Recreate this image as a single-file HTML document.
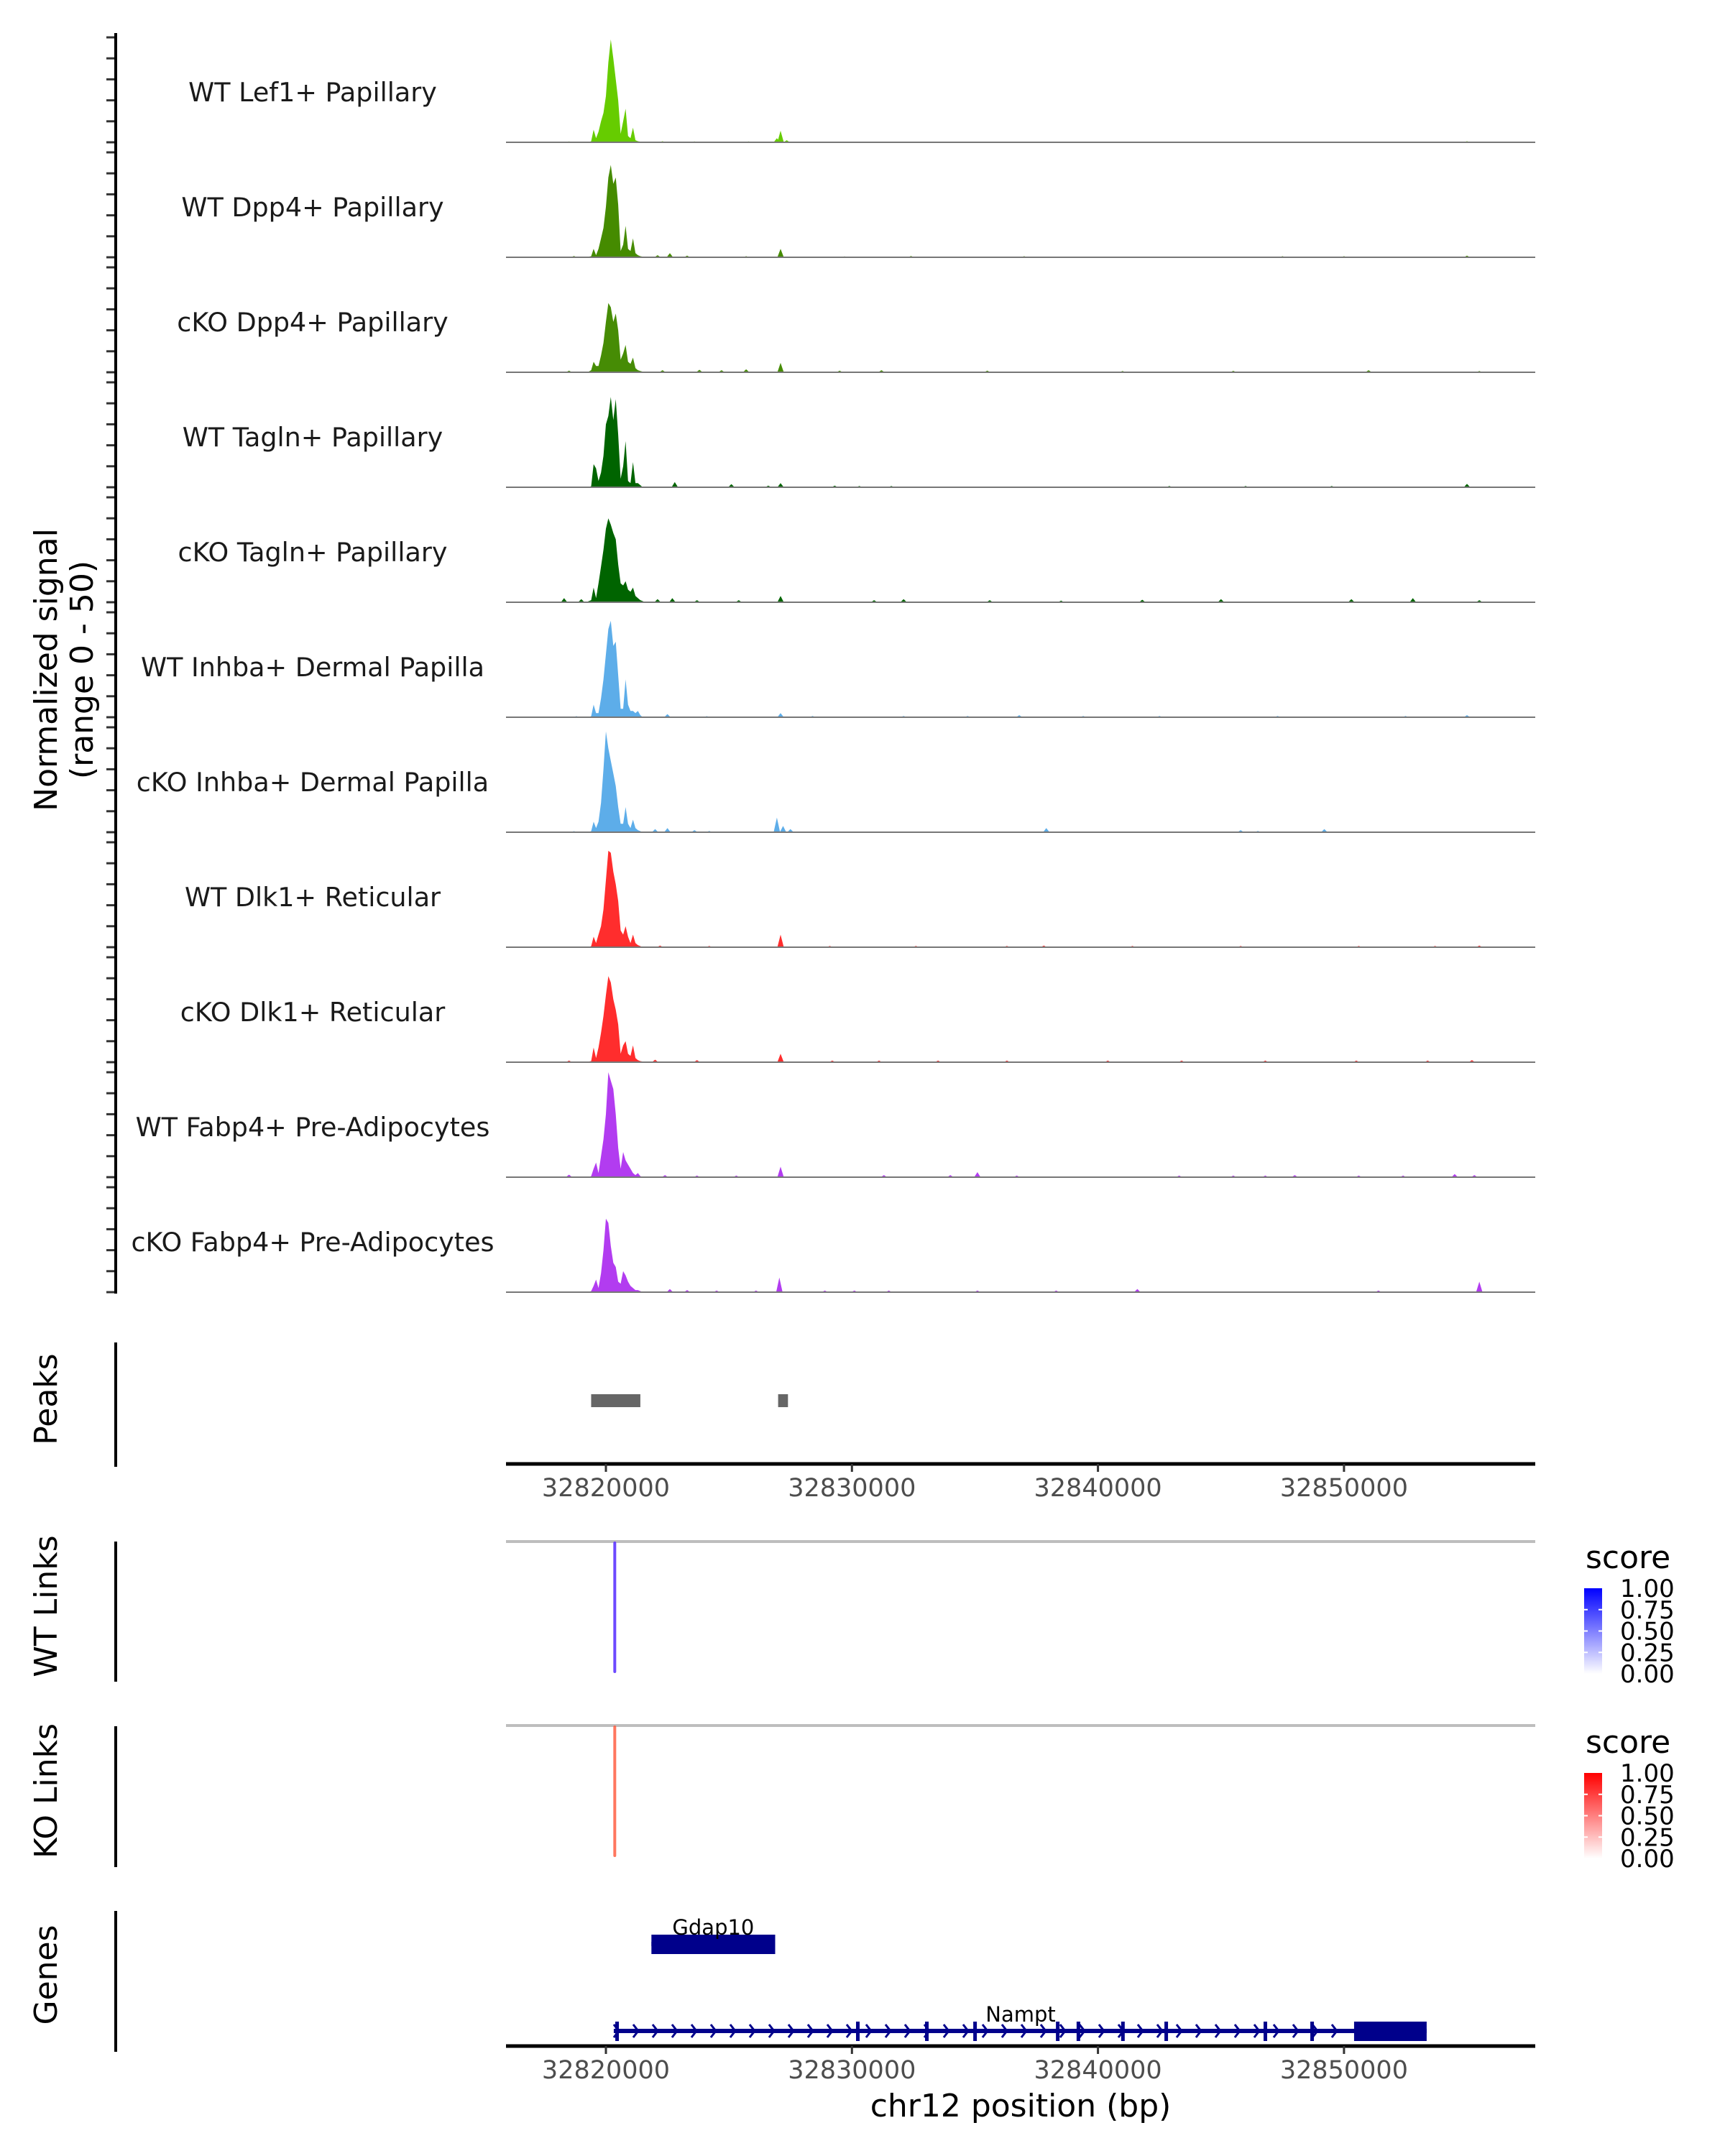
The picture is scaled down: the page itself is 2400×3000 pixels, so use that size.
<!DOCTYPE html>
<html><head><meta charset="utf-8"><style>
html,body{margin:0;padding:0;background:#fff}
svg{display:block}
text{font-family:"DejaVu Sans","Liberation Sans",sans-serif}
</style></head>
<body>
<svg id="chart" width="2400" height="3000" viewBox="0 0 2400 3000" xmlns="http://www.w3.org/2000/svg">
  <rect x="0" y="0" width="2400" height="3000" fill="#fff"/>
  <text transform="translate(79,932) rotate(-90)" text-anchor="middle" font-size="44" fill="#000">Normalized signal</text>
  <text transform="translate(129,932) rotate(-90)" text-anchor="middle" font-size="44" fill="#000">(range 0 - 50)</text>
  <text transform="translate(79,1947) rotate(-90)" text-anchor="middle" font-size="44" fill="#000">Peaks</text>
  <text transform="translate(79,2235) rotate(-90)" text-anchor="middle" font-size="44" fill="#000">WT Links</text>
  <text transform="translate(79,2492) rotate(-90)" text-anchor="middle" font-size="44" fill="#000">KO Links</text>
  <text transform="translate(79,2748) rotate(-90)" text-anchor="middle" font-size="44" fill="#000">Genes</text>
  <text x="1420" y="2945" text-anchor="middle" font-size="44" fill="#000">chr12 position (bp)</text>
  <g id="g-main"></g>
</svg>
<script>
// ---- data ----
const trackNames = ["WT Lef1+ Papillary","WT Dpp4+ Papillary","cKO Dpp4+ Papillary","WT Tagln+ Papillary","cKO Tagln+ Papillary","WT Inhba+ Dermal Papilla","cKO Inhba+ Dermal Papilla","WT Dlk1+ Reticular","cKO Dlk1+ Reticular","WT Fabp4+ Pre-Adipocytes","cKO Fabp4+ Pre-Adipocytes"];
const trackColors = ["#66cc00","#458b00","#468c05","#006400","#006400","#5dade9","#5dade9","#ff2d2d","#ff2d2d","#b23cf0","#b23cf0"];
const binStart = 32819300;
const binStep = 100;
const sigLef1 = [0,0.5,6,2,5,10,14,22,38,49,40,30,20,4,10,16,3,2,7,1,0.5,0.3,0];
const sigDpp4WT = [0.3,0.5,4,1,4,9,14,24,38,44,35,38,25,3,6,15,4,3,9,2,1,0.5,0.3];
const sigDpp4KO = [0.3,1,5,3,3,8,14,24,33,31,24,28,20,6,9,13,5,4,7,2,1,0.6,0.3];
const sigTaglnWT = [0,0.5,11,9,3,7,15,30,34,43,32,42,25,4,10,22,3,2,12,2,2,1,0];
const sigTaglnKO = [0.5,1,7,2,9,17,25,35,40,37,33,30,18,9,8,10,6,5,7,3,2,1,0.5];
const sigInhbaWT = [0,0.5,6,2,2,9,18,30,42,46,34,36,20,4,4,18,6,3,3,2,3,1,0];
const sigInhbaKO = [0,0.5,5,2,5,14,30,48,40,34,28,22,12,4,4,12,4,2,6,2,1,0.5,0];
const sigDlk1WT = [0,0.5,5,2,6,10,18,32,46,45,36,30,22,8,6,10,5,2,6,2,1,0.5,0];
const sigDlk1KO = [0.3,0.5,7,2,7,14,22,32,41,38,30,25,18,4,8,10,4,3,8,2,1,0.5,0.3];
const sigFabp4WT = [0,0.5,4,7,2,10,18,30,50,46,42,30,14,4,12,8,6,4,2,1,2,0.5,0];
const sigFabp4KO = [0,0.5,3,6,2,9,20,35,33,22,14,12,5,4,10,8,5,3,2,1,1,0.5,0];
const blipLef1 = [[32826950,2],[32827100,5.5],[32827350,1],[32818500,0.4],[32822300,0.5],[32823600,0.4],[32825800,0.4],[32855000,0.5]];
const blipDpp4WT = [[32827100,4],[32818700,0.6],[32822100,1],[32822600,2],[32823300,0.8],[32825700,0.5],[32829700,0.4],[32832400,0.6],[32837000,0.5],[32847500,0.5],[32850000,0.5],[32855000,0.8]];
const blipDpp4KO = [[32827100,4.5],[32818500,0.8],[32822300,1],[32823800,1.2],[32824700,1],[32825700,1.4],[32829500,0.8],[32831200,1],[32835500,0.8],[32841000,0.6],[32845500,0.7],[32851000,1],[32855500,0.6]];
const blipTaglnWT = [[32827100,2],[32822800,2.5],[32825100,1.5],[32826600,0.8],[32829300,0.8],[32830300,0.6],[32831600,0.6],[32842900,0.6],[32846000,0.6],[32849500,0.6],[32855000,1.6]];
const blipTaglnKO = [[32827100,3],[32818300,2],[32819000,1.5],[32822100,1.5],[32822700,2],[32823700,1],[32825400,1],[32830900,1],[32832100,1.5],[32835600,1],[32838500,0.8],[32841800,1.2],[32845000,1.5],[32850300,1.5],[32852800,2],[32855500,1]];
const blipInhbaWT = [[32827100,2],[32818800,0.5],[32822500,1.5],[32824100,0.5],[32828400,0.6],[32832100,0.6],[32834700,0.6],[32836800,1],[32839400,0.6],[32842500,0.6],[32847300,0.6],[32852500,0.6],[32855000,1]];
const blipInhbaKO = [[32826950,7],[32827200,3],[32827500,1.5],[32818700,0.5],[32822000,1.5],[32822500,2],[32823600,1],[32824200,0.6],[32837900,2],[32845800,1],[32846500,0.6],[32849200,1.5]];
const blipDlk1WT = [[32827100,6],[32822200,0.8],[32824200,0.6],[32829100,0.6],[32832600,0.6],[32836300,0.6],[32837800,0.8],[32841400,0.6],[32845800,0.6],[32850600,0.6],[32853700,0.6],[32855500,0.8]];
const blipDlk1KO = [[32827100,4],[32818500,0.8],[32822000,1.2],[32823700,1],[32829200,0.8],[32831100,0.8],[32833500,0.8],[32836300,0.8],[32840400,0.8],[32843400,0.8],[32846800,0.8],[32850500,0.8],[32853400,0.8],[32855200,1]];
const blipFabp4WT = [[32827100,5],[32818500,1.2],[32822400,1],[32823700,0.8],[32825300,0.8],[32831300,1],[32834000,1],[32835100,2.4],[32836700,0.8],[32843300,0.8],[32845500,0.8],[32846800,0.8],[32848000,1],[32850600,0.8],[32852400,0.8],[32854500,1.5],[32855300,1]];
const blipFabp4KO = [[32827050,7],[32822600,1.5],[32823300,1],[32824500,0.8],[32826100,0.8],[32828900,0.8],[32830100,0.8],[32831500,0.8],[32835100,0.8],[32838300,0.8],[32841600,1.5],[32851400,0.8],[32855500,5]];
const signals = [sigLef1,sigDpp4WT,sigDpp4KO,sigTaglnWT,sigTaglnKO,sigInhbaWT,sigInhbaKO,sigDlk1WT,sigDlk1KO,sigFabp4WT,sigFabp4KO];
const blips = [blipLef1,blipDpp4WT,blipDpp4KO,blipTaglnWT,blipTaglnKO,blipInhbaWT,blipInhbaKO,blipDlk1WT,blipDlk1KO,blipFabp4WT,blipFabp4KO];
const xTicks = [32820000,32830000,32840000,32850000];
const yTicks = [0,10,20,30,40,50];
const peakStarts = [32819400,32827000];
const peakEnds = [32821400,32827400];
const wtLinkPos = [32820360];
const wtLinkScore = [0.8];
const koLinkPos = [32820360];
const koLinkScore = [0.7];
const legendLabels = ["1.00","0.75","0.50","0.25","0.00"];
const geneNames = ["Gdap10","Nampt"];
const geneStarts = [32821850,32820320];
const geneEnds = [32826880,32853360];
const geneCdsStarts = [32821850,32850410];
const namptExons = [32820440,32830225,32833030,32834990,32838350,32839190,32841000,32842760,32846790,32848690];

// ---- scales ----
const X0 = 843, BP0 = 32820000, PXBP = 0.03423;
function xs(bp){ return X0 + (bp - BP0) * PXBP; }
const PX_L = 704, PX_R = 2136;
const trackBase0 = 198, trackStep = 160, unitPx = 2.92;
function ys(i, v){ return trackBase0 + trackStep * i - Math.min(v,50) * unitPx; }

const NS = "http://www.w3.org/2000/svg";
const g = document.getElementById("g-main");
function mk(tag, attrs, parent){
  const el = document.createElementNS(NS, tag);
  for (const k in attrs) el.setAttribute(k, attrs[k]);
  (parent || g).appendChild(el);
  return el;
}

for (let i = 0; i < trackNames.length; i++) {
  const base = trackBase0 + trackStep * i;
  const tg = mk("g", {});
  
  
  const lb = mk("text", {x: 435, y: base - 57, "text-anchor": "middle", "font-size": 36.5, fill: "#1a1a1a"}, tg);
  lb.textContent = trackNames[i];
  
  
  const s = signals[i];
  let d = "M" + xs(binStart - binStep).toFixed(1) + "," + base;
  for (let k = 0; k < s.length; k++) d += " L" + xs(binStart + k * binStep).toFixed(1) + "," + ys(i, s[k]).toFixed(1);
  d += " L" + xs(binStart + s.length * binStep).toFixed(1) + "," + base + " Z";
  const ar = mk("path", {d: d, fill: trackColors[i]}, tg);
  
  
  const b = blips[i];
  for (let k = 0; k < b.length; k++) {
    const c = b[k][0], h = b[k][1];
    const pd = "M" + xs(c - 130).toFixed(1) + "," + base + " L" + xs(c).toFixed(1) + "," + ys(i, h).toFixed(1) + " L" + xs(c + 130).toFixed(1) + "," + base + " Z";
    const bl = mk("path", {d: pd, fill: trackColors[i]}, tg);
    
    
  }
  const bln = mk("line", {x1: PX_L, x2: PX_R, y1: base, y2: base, stroke: "#777", "stroke-width": 2}, tg);
  
  
  for (let t = 0; t < yTicks.length; t++) {
    const yy = ys(i, yTicks[t]);
    const tk = mk("line", {x1: 148, x2: 161, y1: yy, y2: yy, stroke: "#333", "stroke-width": 3}, tg);
    
    
  }
}
const yAx = mk("line", {x1: 161, x2: 161, y1: 46, y2: ys(trackNames.length - 1, 0) + 2, stroke: "#000", "stroke-width": 4});



const sideAxes = [[1868,2041,'peaks-axis-line'],[2145,2340,'wt-links-axis-line'],[2402,2598,'ko-links-axis-line'],[2659,2855,'genes-axis-line']];
for (let k = 0; k < sideAxes.length; k++) {
  const la = mk("line", {x1: 161, x2: 161, y1: sideAxes[k][0], y2: sideAxes[k][1], stroke: "#000", "stroke-width": 4});
  
  
}

for (let k = 0; k < peakStarts.length; k++) {
  const r = mk("rect", {x: xs(peakStarts[k]), y: 1940, width: xs(peakEnds[k]) - xs(peakStarts[k]), height: 18, fill: "#666"});
  
  
}

function xAxis(y, name){
  const ax = mk("line", {x1: PX_L, x2: PX_R, y1: y, y2: y, stroke: "#000", "stroke-width": 5});
  
  
  for (let t = 0; t < xTicks.length; t++) {
    const xx = xs(xTicks[t]);
    const tk = mk("line", {x1: xx, x2: xx, y1: y, y2: y + 11, stroke: "#333", "stroke-width": 3});
    
    
    const tl = mk("text", {x: xx, y: y + 45, "text-anchor": "middle", "font-size": 35, fill: "#4d4d4d"});
    tl.textContent = String(xTicks[t]);
    
    
  }
}
xAxis(2037, 'peaks-x-axis');
xAxis(2847, 'genes-x-axis');

function linkPanel(topY, botY, pos, score, color, name){
  const gl = mk("line", {x1: PX_L, x2: PX_R, y1: topY, y2: topY, stroke: "#bebebe", "stroke-width": 4});
  
  
  for (let k = 0; k < pos.length; k++) {
    const ln = mk("line", {x1: xs(pos[k]), x2: xs(pos[k]), y1: topY + 2, y2: botY, stroke: color, "stroke-width": 4, "stroke-linecap": "round", opacity: 0.4 + 0.6 * score[k]});
    
    
  }
}
linkPanel(2145, 2326, wtLinkPos, wtLinkScore, "#5a32ff", 'wt-link');
linkPanel(2401, 2582, koLinkPos, koLinkScore, "#ff5a3c", 'ko-link');

const defs = mk("defs", {});
function grad(id, c){
  const lg = mk("linearGradient", {id: id, x1: 0, y1: 1, x2: 0, y2: 0}, defs);
  mk("stop", {offset: "0", "stop-color": "#ffffff"}, lg);
  mk("stop", {offset: "1", "stop-color": c}, lg);
}
grad("gb", "#0000ff");
grad("gr", "#ff0000");
function legend(y0, gid, name){
  const lg = mk("g", {});
  
  
  const tt = mk("text", {x: 2206, y: y0 + 12, "font-size": 44, fill: "#000"}, lg);
  tt.textContent = "score";
  
  
  const barTop = y0 + 40, barH = 119;
  const br = mk("rect", {x: 2204, y: barTop, width: 25, height: barH, fill: "url(#" + gid + ")"}, lg);
  
  
  for (let k = 0; k < legendLabels.length; k++) {
    const yy = barTop + barH * k / (legendLabels.length - 1);
    const tl = mk("text", {x: 2254, y: yy + 12, "font-size": 34, fill: "#000"}, lg);
    tl.textContent = legendLabels[k];
    
    
    if (k > 0 && k < legendLabels.length - 1) {
      mk("line", {x1: 2204, x2: 2209, y1: yy, y2: yy, stroke: "#fff", "stroke-width": 2}, lg);
      mk("line", {x1: 2224, x2: 2229, y1: yy, y2: yy, stroke: "#fff", "stroke-width": 2}, lg);
    }
  }
}
legend(2170, "gb", 'wt-legend');
legend(2427, "gr", 'ko-legend');

const NAVY = "#00008b";
function chevrons(x1, x2, y, step){
  for (let x = x1 + 10; x < x2 - 5; x += step) {
    const c = mk("polyline", {points: (x - 4) + "," + (y - 9) + " " + (x + 3) + "," + y + " " + (x - 4) + "," + (y + 9), fill: "none", stroke: NAVY, "stroke-width": 3});
    
    
  }
}
const geneY = [2705, 2826];
for (let k = 0; k < geneNames.length; k++) {
  const y = geneY[k];
  const x1 = xs(geneStarts[k]), x2 = xs(geneEnds[k]), xc = xs(geneCdsStarts[k]);
  const ln = mk("line", {x1: x1, x2: x2, y1: y, y2: y, stroke: NAVY, "stroke-width": 6});
  
  
  chevrons(x1 - 6, xc, y, 27);
  const bx = mk("rect", {x: xc, y: y - 13, width: x2 - xc, height: 27, fill: NAVY});
  
  
  const lbl = mk("text", {x: k === 0 ? (x1 + x2) / 2 : 1420, y: y - 13, "text-anchor": "middle", "font-size": 29, fill: "#000"});
  lbl.textContent = geneNames[k];
  
  
}
for (let k = 0; k < namptExons.length; k++) {
  const ex = mk("rect", {x: xs(namptExons[k]) - 2, y: geneY[1] - 13, width: 5, height: 27, fill: NAVY});
  
  
}
</script>
</body></html>
